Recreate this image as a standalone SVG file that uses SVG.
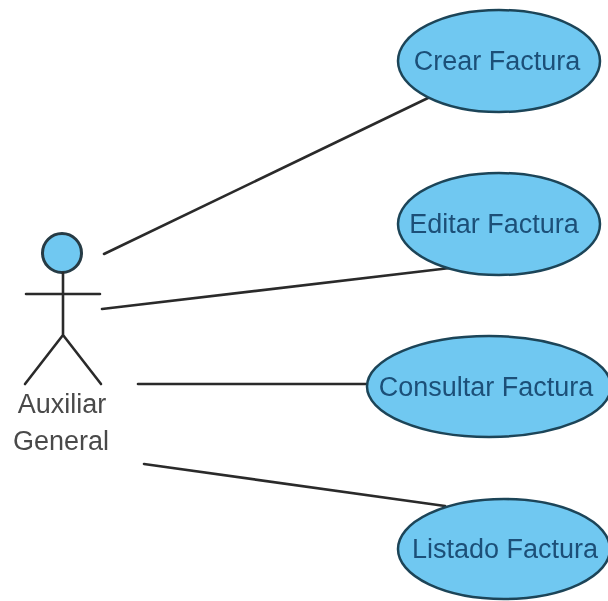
<svg xmlns="http://www.w3.org/2000/svg" width="608" height="601" viewBox="0 0 608 601">
<defs><filter id="soft" x="-2%" y="-2%" width="104%" height="104%"><feGaussianBlur stdDeviation="0.6"/></filter></defs>
<style>
.bg{fill:#fff}
.uc{fill:#70c8f1;stroke:#1d4458;stroke-width:2.5}
.ln{stroke:#2b2b2b;stroke-width:2.6;fill:none;stroke-linecap:round}
text{font-family:"Liberation Sans",Arial,sans-serif;font-size:27px;fill:#1d5078;text-anchor:middle}
#actor text{fill:#4a4a4a}
</style>
<rect class="bg" width="608" height="601"/>
<g filter="url(#soft)">
<g id="connectors">
<line class="ln" x1="104" y1="254" x2="428" y2="98"/>
<line class="ln" x1="102" y1="309" x2="450" y2="268"/>
<line class="ln" x1="138" y1="384" x2="369" y2="384"/>
<line class="ln" x1="144" y1="464" x2="445" y2="506"/>
</g>
<g id="actor">
<circle cx="62" cy="253" r="19.5" fill="#70c8f1" stroke="#253a44" stroke-width="3"/>
<path class="ln" d="M26 294H100M63 273V335M63 335L25 384M63 335L101 384"/>
<text x="62" y="413">Auxiliar</text>
<text x="61" y="450">General</text>
</g>
<g id="uc1"><ellipse class="uc" cx="499" cy="61" rx="101" ry="51"/><text x="497" y="70">Crear Factura</text></g>
<g id="uc2"><ellipse class="uc" cx="499" cy="224" rx="101" ry="51"/><text x="494" y="233">Editar Factura</text></g>
<g id="uc3"><ellipse class="uc" cx="489" cy="386.500" rx="122" ry="50.500"/><text x="486" y="396">Consultar Factura</text></g>
<g id="uc4"><ellipse class="uc" cx="504" cy="549" rx="106" ry="50"/><text x="505" y="558">Listado Factura</text></g>
</g>
</svg>
